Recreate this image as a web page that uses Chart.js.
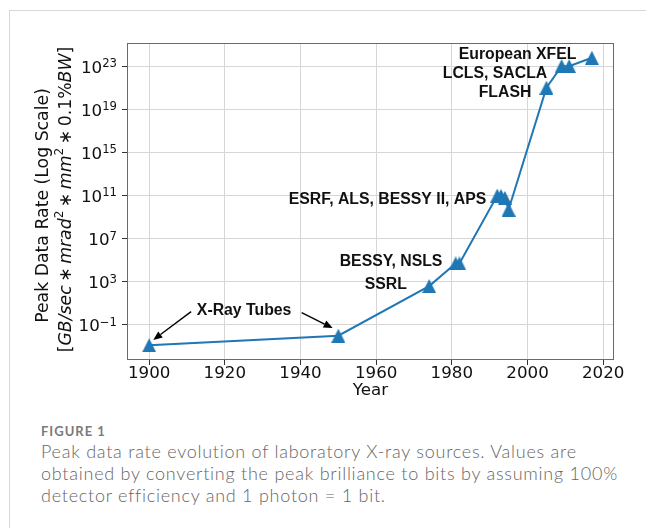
<!DOCTYPE html>
<html>
<head>
<meta charset="utf-8">
<script src="https://cdn.jsdelivr.net/npm/chart.js@4.4.0/dist/chart.umd.min.js"></script>
<style>
  html, body { margin: 0; padding: 0; background: #fff; width: 646px; height: 528px; overflow: hidden; }
  #card { position: absolute; left: 9px; top: 10px; width: 700px; height: 600px;
          border-top: 1px solid #d8d8d8; border-left: 1px solid #d8d8d8; }
  #wrap { position: absolute; left: 0; top: 0; width: 646px; height: 410px; }
  .fig { position: absolute; left: 41px; top: 423px; font-family: Lato, "Open Sans", sans-serif;
         font-weight: 700; font-size: 13px; line-height: 16px; letter-spacing: 1px; color: #7a7a7a; }
  .cap { position: absolute; left: 41px; top: 440px; width: 600px; font-family: Lato, "Open Sans", sans-serif;
         font-weight: 300; font-size: 18px; line-height: 22px; letter-spacing: 0.75px; color: #666; white-space: nowrap; }
</style>
</head>
<body>
<div id="card"></div>
<div id="wrap"><canvas id="chart"></canvas></div>
<div class="fig">FIGURE 1</div>
<div class="cap">Peak data rate evolution of laboratory X-ray sources. Values are<br>obtained by converting the peak brilliance to bits by assuming 100%<br>detector efficiency and 1 photon = 1 bit.</div>
<script>
// Commissioning year of each source and its peak data rate
const years    = [1900, 1950, 1974, 1981, 1982, 1992, 1993, 1994, 1995, 2005, 2009, 2011, 2017];
const peakRate = [1.3e-3, 1.0e-2, 4.0e2, 5.0e4, 5.0e4, 1.0e11, 9.0e10, 6.0e10, 5.0e9, 1.0e21, 1.0e23, 1.0e23, 6.0e23];

// Axis ticks (y labels are written as 10 with a raised exponent)
const xTicks = [1900, 1920, 1940, 1960, 1980, 2000, 2020];
const yTicks = [1e-1, 1e3, 1e7, 1e11, 1e15, 1e19, 1e23];
const yTickExponents = ['\u22121', '3', '7', '11', '15', '19', '23'];

// Source labels, anchored in data space (year, rate)
const labels = [
  { text: 'European XFEL', x: 2012.9, y: 1.6e24, align: 'right' },
  { text: 'LCLS, SACLA', x: 2005.2, y: 2.75e22, align: 'right' },
  { text: 'FLASH', x: 2001.0, y: 4.4e20, align: 'right' },
  { text: 'ESRF, ALS, BESSY II, APS', x: 1989.1, y: 5.6e10, align: 'right' },
  { text: 'BESSY, NSLS', x: 1977.5, y: 9.5e4, align: 'right' },
  { text: 'SSRL', x: 1968.1, y: 6.8e2, align: 'right' },
  { text: 'X-Ray Tubes', x: 1925.1, y: 3.0, align: 'center' }
];
// Arrows from the "X-Ray Tubes" label to the two tube points
const arrows = [
  { from: [1911.1, 1.7], to: [1901.1, 4.1e-3] },
  { from: [1940.3, 1.38], to: [1948.5, 5.2e-2] }
];

const BLUE = '#1f77b4';
const TICK_FONT = { family: '"DejaVu Sans"', size: 16.7, lineHeight: 1.0 };

function triangleMarker(size, color) {
  const c = document.createElement('canvas');
  c.width = size; c.height = size;
  const g = c.getContext('2d');
  g.fillStyle = color;
  g.beginPath();
  g.moveTo(size / 2, 0);
  g.lineTo(size, size);
  g.lineTo(0, size);
  g.closePath();
  g.fill();
  return c;
}

// Pieces of the second y-axis title line: [GB/sec * mrad^2 * mm^2 * 0.1%BW]
const unitRuns = [
  { t: '[', it: false },
  { t: 'GB/sec', it: true },
  { t: '\u2217', it: false, pad: 3.5 },
  { t: 'mrad', it: true },
  { t: '2', it: false, sup: true },
  { t: '\u2217', it: false, pad: 3.5 },
  { t: 'mm', it: true },
  { t: '2', it: false, sup: true },
  { t: '\u2217', it: false, pad: 3.5 },
  { t: '0.1%', it: false },
  { t: 'BW', it: true },
  { t: ']', it: false }
];

const overlay = {
  id: 'overlay',
  afterDatasetsDraw(chart) {
    const { ctx, scales: { x, y } } = chart;
    ctx.save();
    ctx.fillStyle = '#111';
    ctx.font = 'bold 15.8px "Liberation Sans", Arial, sans-serif';
    ctx.textBaseline = 'alphabetic';
    const capHalf = 0.716 * 15.8 / 2;
    labels.forEach(l => {
      ctx.textAlign = l.align;
      ctx.fillText(l.text, x.getPixelForValue(l.x), y.getPixelForValue(l.y) + capHalf);
    });
    // arrows
    ctx.strokeStyle = '#000';
    ctx.fillStyle = '#000';
    ctx.lineWidth = 1.4;
    arrows.forEach(a => {
      const x0 = x.getPixelForValue(a.from[0]), y0 = y.getPixelForValue(a.from[1]);
      const x1 = x.getPixelForValue(a.to[0]), y1 = y.getPixelForValue(a.to[1]);
      const ang = Math.atan2(y1 - y0, x1 - x0);
      const hl = 9, hw = 3.8;
      const bx = x1 - hl * Math.cos(ang), by = y1 - hl * Math.sin(ang);
      ctx.beginPath();
      ctx.moveTo(x0, y0);
      ctx.lineTo(bx, by);
      ctx.stroke();
      ctx.beginPath();
      ctx.moveTo(x1, y1);
      ctx.lineTo(bx + hw * Math.sin(ang), by - hw * Math.cos(ang));
      ctx.lineTo(bx - hw * Math.sin(ang), by + hw * Math.cos(ang));
      ctx.closePath();
      ctx.fill();
    });
    ctx.restore();
  },
  afterDraw(chart) {
    const { ctx, chartArea: a, scales: { y } } = chart;
    ctx.save();
    // frame
    ctx.strokeStyle = '#6a6a6a';
    ctx.lineWidth = 1;
    ctx.strokeRect(Math.round(a.left) + 0.5, Math.round(a.top) + 0.5,
                   Math.round(a.right - a.left) - 1, Math.round(a.bottom - a.top) - 1);

    // y tick labels: "10" plus superscript exponent, right-aligned left of the tick marks
    const base = 16.7, sup = 11.7;
    ctx.fillStyle = '#111';
    ctx.textBaseline = 'alphabetic';
    ctx.textAlign = 'left';
    const right = a.left - 10;
    yTicks.forEach((v, i) => {
      const py = y.getPixelForValue(v) + 6.5;
      ctx.font = sup + 'px "DejaVu Sans"';
      const we = ctx.measureText(yTickExponents[i]).width;
      ctx.font = base + 'px "DejaVu Sans"';
      const wb = ctx.measureText('10').width;
      ctx.fillText('10', right - we - wb, py);
      ctx.font = sup + 'px "DejaVu Sans"';
      ctx.fillText(yTickExponents[i], right - we, py - 5.6);
    });

    // y-axis title, two rotated lines
    const cy = (a.top + a.bottom) / 2;
    const size = 17.3;
    ctx.translate(0, cy);
    ctx.rotate(-Math.PI / 2);
    ctx.textAlign = 'center';
    ctx.font = size + 'px "DejaVu Sans"';
    ctx.fillText('Peak Data Rate (Log Scale)', -4, 47.5);

    ctx.textAlign = 'left';
    const fontFor = r => (r.it ? 'italic ' : '') + (r.sup ? size * 0.7 : size) + 'px "DejaVu Sans"';
    let total = 0;
    unitRuns.forEach(r => {
      ctx.font = fontFor(r);
      r.w = ctx.measureText(r.t).width + 2 * (r.pad || 0);
      total += r.w;
    });
    let u = -total / 2 + 2;
    unitRuns.forEach(r => {
      ctx.font = fontFor(r);
      ctx.fillText(r.t, u + (r.pad || 0), r.sup ? 70.5 - size * 0.42 : 70.5);
      u += r.w;
    });
    ctx.restore();
  }
};

new Chart(document.getElementById('chart'), {
  type: 'line',
  data: {
    datasets: [{
      data: years.map((yr, i) => ({ x: yr, y: peakRate[i] })),
      borderColor: BLUE,
      backgroundColor: BLUE,
      borderWidth: 2,
      tension: 0,
      pointStyle: triangleMarker(14, BLUE),
      pointRadius: 7,
      fill: false
    }]
  },
  options: {
    responsive: true,
    maintainAspectRatio: false,
    animation: false,
    layout: { padding: { top: 43, right: 32, bottom: 0, left: 0 } },
    plugins: { legend: { display: false }, tooltip: { enabled: false } },
    scales: {
      x: {
        type: 'linear',
        min: 1894.15,
        max: 2022.85,
        afterBuildTicks: s => { s.ticks = xTicks.map(v => ({ value: v })); },
        afterFit: s => { s.height = 50; },
        ticks: { color: '#111', font: TICK_FONT, padding: 0, maxRotation: 0, autoSkip: false,
                 callback: v => String(v) },
        grid: { color: '#d6d6d6', lineWidth: 1, tickColor: '#333', tickLength: 5 },
        border: { display: false },
        title: { display: true, text: 'Year', color: '#111',
                 font: { family: '"DejaVu Sans"', size: 16.7, lineHeight: 1.2 },
                 padding: { top: 0, bottom: 9 } }
      },
      y: {
        type: 'logarithmic',
        min: 5.6e-5,
        max: 1.4e25,
        afterBuildTicks: s => { s.ticks = yTicks.map(v => ({ value: v })); },
        afterFit: s => { s.width = 127; },
        ticks: { display: false },
        grid: { color: '#d6d6d6', lineWidth: 1, tickColor: '#333', tickLength: 5 },
        border: { display: false }
      }
    }
  },
  plugins: [overlay]
});
</script>
</body>
</html>
